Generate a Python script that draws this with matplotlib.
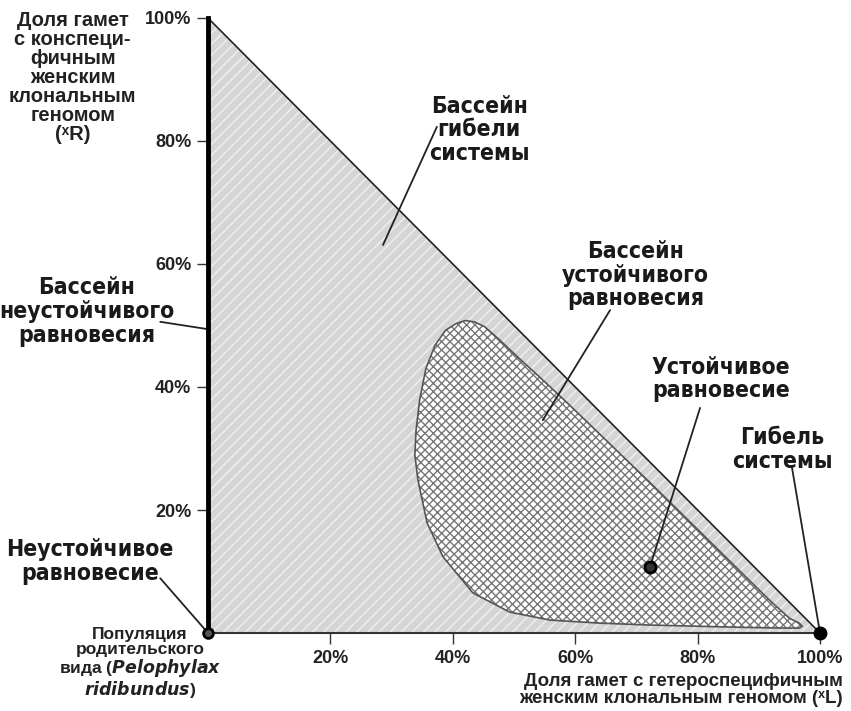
"""
Phase diagram of a hemiclonal frog system: basins of attraction on the
gamete-composition triangle.
"""

import matplotlib
matplotlib.use("Agg")
import matplotlib.pyplot as plt
import matplotlib.patches as mpatches

# --- data (percent) ---------------------------------------------------------
triangle_x = [0, 0, 100]
triangle_y = [0, 100, 0]

# outline of the stable-equilibrium basin
basin_x = [40.5, 42.0, 43.5, 45.2, 47.7, 51.0, 54.2, 58.5, 63.0, 68.0, 73.0,
           78.0, 83.0, 88.0, 92.0, 95.0, 96.6, 97.1, 96.6, 94.0, 88.0, 80.0,
           72.0, 64.1, 55.9, 49.3, 43.3, 38.4, 35.8, 34.3, 33.8, 34.0, 34.6,
           35.6, 37.1, 38.8]
basin_y = [50.3, 50.8, 50.6, 49.8, 47.6, 44.5, 41.6, 37.6, 33.3, 28.5, 23.7,
           18.8, 13.9, 9.0, 5.1, 2.4, 1.6, 1.1, 0.8, 0.8, 0.9, 1.1,
           1.3, 1.6, 2.1, 3.4, 6.5, 12.4, 17.9, 24.9, 29.0, 33.0, 38.0,
           43.0, 46.8, 49.2]

unstable_pt = (0, 0)
stable_pt = (72.2, 10.7)
death_pt = (100, 0)

ticks = [20, 40, 60, 80, 100]
tick_labels = ["20%", "40%", "60%", "80%", "100%"]

# (text, text xy, line start, line end)
labels = [
    ("Бассейн\nгибели\nсистемы", (44.3, 81.8), (37.4, 82.3), (28.6, 63.1)),
    ("Бассейн\nнеустойчивого\nравновесия", (-19.8, 52.3), (-7.8, 50.6), (0, 49.4)),
    ("Неустойчивое\nравновесие", (-19.3, 11.6), (-7.8, 8.9), (0, 0)),
    ("Бассейн\nустойчивого\nравновесия", (69.9, 58.2), (65.7, 52.5), (54.7, 34.6)),
    ("Устойчивое\nравновесие", (83.8, 41.3), (80.4, 36.6), (72.2, 10.7)),
    ("Гибель\nсистемы", (93.8, 29.8), (95.4, 27.0), (100, 0)),
]

y_title = "Доля гамет\nс конспеци-\nфичным\nженским\nклональным\nгеномом\n(ˣR)"
x_title = "Доля гамет с гетероспецифичным\nженским клональным геномом (ˣL)"

# --- style --------------------------------------------------------------------
_LABEL_FONT = ["DejaVu Sans"]
_TEXT_FONT = ["Liberation Sans", "DejaVu Sans"]
_GRAY = "#d5d5d5"
_STRIPE = "#f0f0f0"
_HATCH_GRAY = "#777777"

plt.rcParams["hatch.linewidth"] = 1.0

fig = plt.figure(figsize=(8.51, 7.11), dpi=100)
fig.patch.set_facecolor("white")
ax = fig.add_axes([0.2444, 0.1097, 0.7192, 0.8650])
ax.set_xlim(0, 100)
ax.set_ylim(0, 100)

# basin of system death: grey triangle with light diagonal stripes
ax.add_patch(mpatches.Polygon(list(zip(triangle_x, triangle_y)), closed=True,
                              facecolor=_GRAY, edgecolor=_STRIPE, hatch="///",
                              linewidth=0, zorder=1))
ax.plot([0, 100], [100, 0], color="#222222", lw=1.2, zorder=4)

# basin of stable equilibrium: cross-hatched blob
ax.add_patch(mpatches.Polygon(list(zip(basin_x, basin_y)), closed=True,
                              facecolor="white", edgecolor=_HATCH_GRAY,
                              hatch="xxxx", linewidth=0, zorder=2))
ax.add_patch(mpatches.Polygon(list(zip(basin_x, basin_y)), closed=True,
                              facecolor="none", edgecolor="#555555",
                              linewidth=1.2, joinstyle="round", zorder=3))

# axes
for side in ("top", "right"):
    ax.spines[side].set_visible(False)
ax.spines["left"].set_linewidth(3.5)
ax.spines["left"].set_color("black")
ax.spines["left"].set_zorder(5)
ax.spines["bottom"].set_linewidth(1.5)
ax.spines["bottom"].set_color("#333333")
ax.set_xticks(ticks)
ax.set_yticks(ticks)
ax.set_xticklabels(tick_labels)
ax.set_yticklabels(tick_labels)
ax.tick_params(direction="out", length=8, width=1, color="#333333", pad=4)
for lab in ax.get_xticklabels() + ax.get_yticklabels():
    lab.set_fontfamily(_TEXT_FONT)
    lab.set_fontsize(13)
    lab.set_fontweight("bold")
    lab.set_color("#222222")

# equilibrium points
ax.plot(*unstable_pt, "o", color="black", ms=7, mfc="#555555", mew=2,
        clip_on=False, zorder=6)
ax.plot(*stable_pt, "o", color="black", ms=8, mfc="#333333", mew=2,
        clip_on=False, zorder=6)
ax.plot(*death_pt, "o", color="black", ms=9, clip_on=False, zorder=6)

# annotations
for text, xy_text, start, end in labels:
    ax.annotate("", xy=end, xytext=start, annotation_clip=False,
                arrowprops=dict(arrowstyle="-", color="#222222", lw=1.3,
                                shrinkA=0, shrinkB=0), zorder=5)
    ax.text(*xy_text, text, ha="center", va="center", family=_LABEL_FONT,
            fontstretch="condensed", fontsize=16.5, fontweight="bold",
            linespacing=1.05, color="#1a1a1a", zorder=7)

ax.text(-11.1, -4.9, "Популяция\nродительского\nвида ($\\mathbfit{Pelophylax}$\n"
        "$\\mathbfit{ridibundus}$)", ha="center", va="center",
        family=_TEXT_FONT, fontsize=12.5, fontweight="bold", linespacing=1.0,
        color="#222222")

ax.text(-22.1, 90.4, y_title, ha="center", va="center", family=_TEXT_FONT,
        fontsize=14.5, fontweight="bold", linespacing=1.0, color="#222222")
ax.text(103.8, -9.2, x_title, ha="right", va="center", family=_TEXT_FONT,
        fontsize=13.5, fontweight="bold", linespacing=1.0, color="#222222")

fig.savefig("out.png", dpi=100, facecolor="white")
